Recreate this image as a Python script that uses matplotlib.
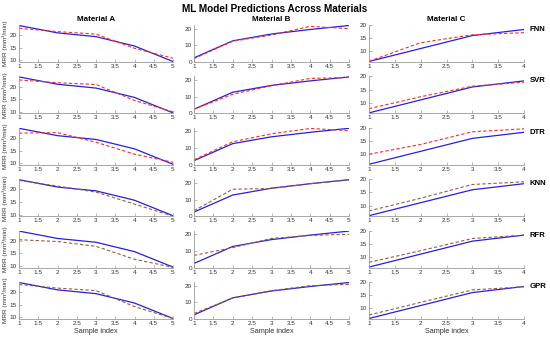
import matplotlib
matplotlib.use("Agg")
import matplotlib.pyplot as plt

plt.rcParams['font.family'] = ['Liberation Sans', 'DejaVu Sans']

models = ["FNN", "SVR", "DTR", "KNN", "RFR", "GPR"]
materials = ["Material A", "Material B", "Material C"]

x_ab = [1, 2, 3, 4, 5]
x_c = [1, 2, 3, 4]

actual_A = [23.8, 20.9, 19.4, 15.7, 9.6]
actual_B = [2.5, 12.7, 16.8, 19.5, 21.9]
actual_C = [6.2, 11.1, 16.0, 18.3]

pred_A = [
    [22.7, 21.4, 20.4, 14.8, 10.9],
    [22.6, 21.5, 20.8, 14.5, 10.0],
    [21.9, 22.1, 18.3, 13.6, 10.4],
    [23.5, 21.3, 18.9, 14.2, 9.4],
    [20.4, 19.7, 17.8, 12.7, 9.5],
    [23.0, 21.6, 20.6, 14.3, 9.6],
]
pred_B = [
    [2.0, 12.5, 16.2, 21.4, 20.0],
    [2.5, 11.5, 16.6, 21.0, 21.5],
    [3.0, 13.8, 18.6, 21.8, 20.5],
    [3.3, 16.2, 16.6, 19.5, 21.8],
    [7.3, 12.0, 17.5, 19.3, 20.0],
    [3.3, 12.6, 17.0, 20.0, 20.8],
]
pred_C = [
    [6.3, 13.3, 16.3, 17.1],
    [7.8, 12.3, 16.3, 17.8],
    [10.0, 13.7, 18.5, 19.6],
    [8.0, 12.8, 18.0, 19.0],
    [8.0, 12.4, 17.0, 18.3],
    [7.5, 12.3, 17.0, 18.2],
]

xticks_ab = [1, 1.5, 2, 2.5, 3, 3.5, 4, 4.5, 5]
xticks_c = [1, 1.5, 2, 2.5, 3, 3.5, 4]
yticks = [[10, 15, 20], [0, 10, 20], [10, 15, 20]]
ylims = [(9.4, 24.0), (0, 22.2), (6.0, 20.0)]

W, H = 550, 340
fig = plt.figure(figsize=(5.5, 3.4), dpi=100)

col_left = [19, 194, 369]
col_w = [154, 155, 155]
row_top0 = 25
row_pitch = 51.4
ax_h = 37

blue = '#2222dd'
pred_colors = ['#ff2a2a', '#ff2a2a', '#ff2a2a', '#a05a3c', '#a05a3c', '#a05a3c']
spine_c = '#9a9a9a'
tick_c = '#333333'

fig.text(0.5, 1 - 9 / H, "ML Model Predictions Across Materials",
         ha='center', va='center', fontsize=7.2, fontweight='bold')

for r, m in enumerate(models):
    top = row_top0 + r * row_pitch
    for c in range(3):
        left = col_left[c]
        ax = fig.add_axes([left / W, 1 - (top + ax_h) / H, col_w[c] / W, ax_h / H])
        if c == 0:
            xs, act, pr, xt = x_ab, actual_A, pred_A[r], xticks_ab
        elif c == 1:
            xs, act, pr, xt = x_ab, actual_B, pred_B[r], xticks_ab
        else:
            xs, act, pr, xt = x_c, actual_C, pred_C[r], xticks_c
        ax.plot(xs, act, '-', color=blue, lw=0.9)
        ax.plot(xs, pr, '--', color=pred_colors[r], lw=0.8, dashes=(3, 2))
        ax.set_xlim(xs[0], xs[-1])
        ax.set_ylim(*ylims[c])
        ax.set_xticks(xt)
        ax.set_xticklabels([('%g' % v) for v in xt])
        ax.set_yticks(yticks[c])
        ax.tick_params(direction='in', length=2, width=0.5, labelsize=4.6,
                       colors=spine_c, labelcolor=tick_c, pad=1.5)
        for s in ['top', 'right']:
            ax.spines[s].set_visible(False)
        for s in ['left', 'bottom']:
            ax.spines[s].set_color(spine_c)
            ax.spines[s].set_linewidth(0.6)
        if r == 0:
            ax.set_title(materials[c], fontsize=5.8, fontweight='bold', pad=3)
        if c == 0:
            ax.set_ylabel("MRR (mm³/min)", fontsize=4.6, labelpad=1, color=tick_c)
        if r == len(models) - 1:
            ax.set_xlabel("Sample index", fontsize=5.2, labelpad=1.5, color=tick_c)
        if c == 2:
            ax.text(1.035, 0.88, m, transform=ax.transAxes, fontsize=5.6,
                    fontweight='bold', ha='left', va='center')

fig.savefig("out.png", dpi=100)
